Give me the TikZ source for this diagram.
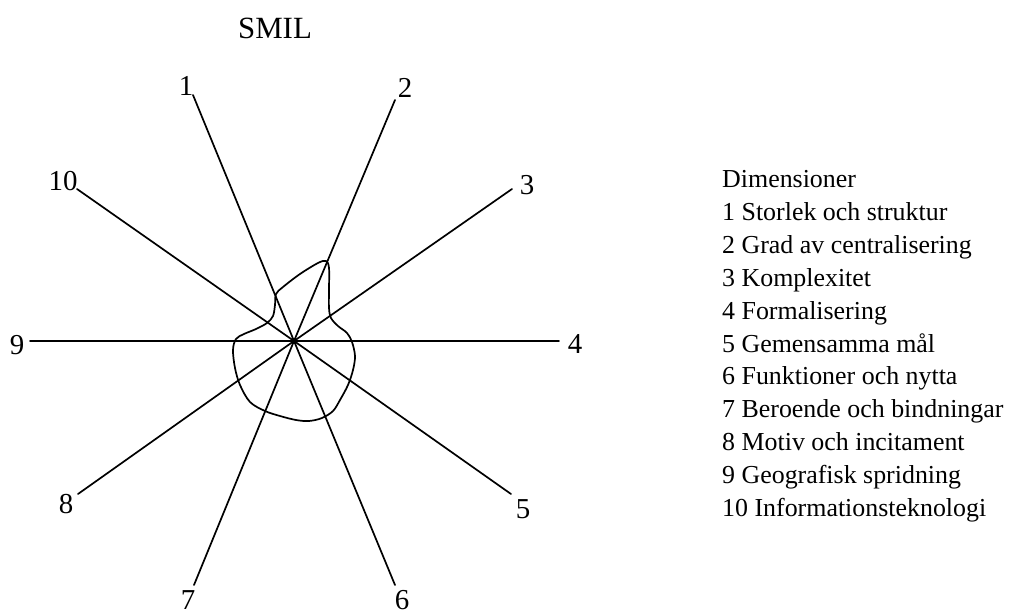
\documentclass[tikz,border=0pt]{standalone}
\usepackage{fontspec}
\setmainfont{Liberation Serif}
\begin{document}
\begin{tikzpicture}[x=1bp,y=-1bp,
  axis/.style={line width=1.7bp, line cap=round},
  profile/.style={line width=1.7bp},
  lbl/.style={font=\fontsize{29}{29}\selectfont, inner sep=0pt},
  ttl/.style={font=\fontsize{31}{31}\selectfont, inner sep=0pt},
  legend/.style={font=\fontsize{26}{26}\selectfont, anchor=base west, inner sep=0pt}]
\useasboundingbox (0,0) rectangle (1018,614);

% title
\node[ttl] (title) at (275,28) {SMIL};

% centre and axis end points
\coordinate (O) at (294,341);
\coordinate (e1) at (193,95);
\coordinate (e2) at (395,100);
\coordinate (e3) at (512,189);
\coordinate (e4) at (559,341);
\coordinate (e5) at (511,494);
\coordinate (e6) at (395,585);
\coordinate (e7) at (194,585);
\coordinate (e8) at (78,494);
\coordinate (e9) at (30,341);
\coordinate (e10) at (77,189);

% axes
\draw[axis] (e1) -- (O) -- (e6);
\draw[axis] (e2) -- (O) -- (e7);
\draw[axis] (e3) -- (O) -- (e8);
\draw[axis] (e4) -- (O) -- (e9);
\draw[axis] (e5) -- (O) -- (e10);

% axis labels
\node[lbl] (l1) at (186,86) {1};
\node[lbl] (l2) at (405,88) {2};
\node[lbl] (l3) at (527,185) {3};
\node[lbl] (l4) at (575,344) {4};
\node[lbl] (l5) at (523,509) {5};
\node[lbl] (l6) at (402,600) {6};
\node[lbl] (l7) at (188,600) {7};
\node[lbl] (l8) at (66,504) {8};
\node[lbl] (l9) at (17,345) {9};
\node[lbl] (l10) at (63,181) {10};

% profile curve
\draw[profile] plot[smooth cycle, tension=0.55] coordinates {
  (318,263) (326,261) (329,268) (329,290) (329,308) (331,318)
  (338,326) (347,333) (352,342) (355,356) (353,370) (348,385)
  (340,400) (333,411) (322,418) (309,421) (296,420) (280,416)
  (265,411) (250,402) (240,385) (235,368) (233,350) (236,339)
  (244,334) (256,329) (267,323) (273,316) (275,305) (276,294)
  (283,287) (300,274)};

% legend
\node[legend] (h)   at (722,188)   {Dimensioner};
\node[legend] (d1)  at (722,220.8) {1 Storlek och struktur};
\node[legend] (d2)  at (722,253.6) {2 Grad av centralisering};
\node[legend] (d3)  at (722,286.4) {3 Komplexitet};
\node[legend] (d4)  at (722,319.2) {4 Formalisering};
\node[legend] (d5)  at (722,352)   {5 Gemensamma mål};
\node[legend] (d6)  at (722,384.8) {6 Funktioner och nytta};
\node[legend] (d7)  at (722,417.6) {7 Beroende och bindningar};
\node[legend] (d8)  at (722,450.4) {8 Motiv och incitament};
\node[legend] (d9)  at (722,483.2) {9 Geografisk spridning};
\node[legend] (d10) at (722,516)   {10 Informationsteknologi};
\end{tikzpicture}
\end{document}
